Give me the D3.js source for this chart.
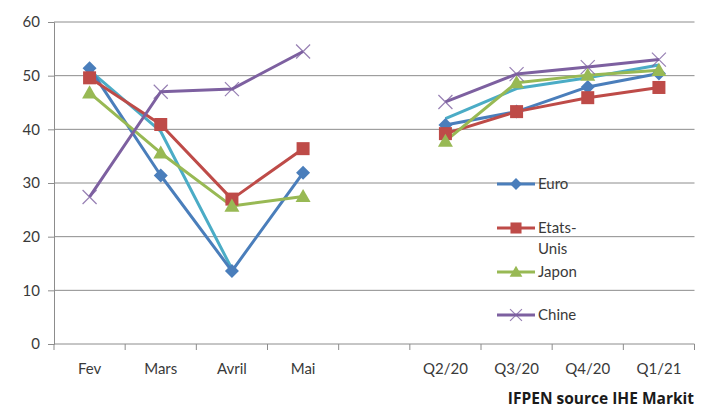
<!DOCTYPE html>
<html>
<head>
<meta charset="utf-8">
<script src="https://cdn.jsdelivr.net/npm/d3@7"></script>
<style>
  html, body { margin: 0; padding: 0; background: #fff; }
  svg { display: block; }
  text { font-family: Lato, "Open Sans", sans-serif; fill: #3a3a3a; }
</style>
</head>
<body>
<svg id="chart" width="712" height="410"></svg>
<script>
// Categories: monthly values, an empty slot, then quarterly forecasts
const categories = ["Fev", "Mars", "Avril", "Mai", "", "Q2/20", "Q3/20", "Q4/20", "Q1/21"];
const yTicks = [0, 10, 20, 30, 40, 50, 60];

const euro      = [51.4, 31.4, 13.6, 31.9, null, 40.8, 43.3, 47.9, 50.4];
const etatsUnis = [49.6, 40.9, 27.0, 36.4, null, 39.2, 43.3, 45.9, 47.8];
const japon     = [46.8, 35.6, 25.7, 27.5, null, 37.8, 48.7, 50.1, 51.0];
const chine     = [27.4, 47.0, 47.5, 54.5, null, 45.1, 50.3, 51.6, 53.0];
const monde     = [51.0, 39.6, 14.0, null, null, 42.0, 47.6, 49.6, 52.0];

const series = [
  { name: "Monde",      values: monde,     color: "#4bacc6", marker: null,       legend: false },
  { name: "Euro",       values: euro,      color: "#4a7ebb", marker: "diamond",  legend: true },
  { name: "Etats-Unis", values: etatsUnis, color: "#be4b48", marker: "square",   legend: true },
  { name: "Japon",      values: japon,     color: "#98b954", marker: "triangle", legend: true },
  { name: "Chine",      values: chine,     color: "#7d60a0", marker: "cross",    legend: true }
];

const svg = d3.select("#chart");
const margin = { left: 54, right: 17.5, top: 22, bottom: 66 };
const W = 712, H = 410;

const x = d3.scaleBand().domain(d3.range(categories.length))
  .range([margin.left, W - margin.right]).padding(0);
const y = d3.scaleLinear().domain([0, 60]).range([H - margin.bottom, margin.top]);
const cx = i => x(i) + x.bandwidth() / 2;

// Horizontal gridlines
svg.append("g").selectAll("line").data(yTicks.filter(t => t > 0)).join("line")
  .attr("x1", margin.left).attr("x2", W - margin.right)
  .attr("y1", d => y(d)).attr("y2", d => y(d))
  .attr("stroke", "#8c8c8c").attr("stroke-width", 1);

// Y axis
const yAxis = svg.append("g").attr("transform", `translate(${margin.left},0)`)
  .call(d3.axisLeft(y).tickValues(yTicks).tickSize(6).tickPadding(8));
yAxis.select(".domain").attr("stroke", "#8c8c8c");
yAxis.selectAll(".tick line").attr("stroke", "#8c8c8c");
yAxis.selectAll("text").attr("font-size", 15).style("fill", "#3a3a3a");

// X axis: tick marks at category boundaries, labels centred in bands
const xAxisG = svg.append("g").attr("transform", `translate(0,${y(0)})`);
xAxisG.append("line").attr("x1", margin.left).attr("x2", W - margin.right)
  .attr("y1", 0).attr("y2", 0).attr("stroke", "#8c8c8c");
xAxisG.selectAll("line.tk").data(d3.range(categories.length + 1)).join("line")
  .attr("class", "tk")
  .attr("x1", i => margin.left + i * x.bandwidth()).attr("x2", i => margin.left + i * x.bandwidth())
  .attr("y1", 0).attr("y2", 6).attr("stroke", "#8c8c8c");
xAxisG.selectAll("text").data(categories).join("text")
  .attr("x", (d, i) => cx(i)).attr("y", 30)
  .attr("text-anchor", "middle").attr("font-size", 15).text(d => d);

// Lines
const line = d3.line().defined(d => d.v != null).x(d => cx(d.i)).y(d => y(d.v));
series.forEach(s => {
  const pts = s.values.map((v, i) => ({ i, v }));
  svg.append("path").datum(pts).attr("d", line)
    .attr("fill", "none").attr("stroke", s.color).attr("stroke-width", 3)
    .attr("stroke-linejoin", "round");
});

// Markers
function drawMarker(g, type, color, px, py, legend) {
  const k = legend ? 0.85 : 1;
  if (type === "diamond") {
    const r = 7 * k;
    g.append("path").attr("d", `M${px},${py - r}L${px + r},${py}L${px},${py + r}L${px - r},${py}Z`)
      .attr("fill", color);
  } else if (type === "square") {
    const r = 6.5 * k;
    g.append("rect").attr("x", px - r).attr("y", py - r).attr("width", 2 * r).attr("height", 2 * r)
      .attr("fill", color);
  } else if (type === "triangle") {
    const r = 7.5 * k;
    g.append("path").attr("d", `M${px},${py - r}L${px + r},${py + r * 0.75}L${px - r},${py + r * 0.75}Z`)
      .attr("fill", color);
  } else if (type === "cross") {
    const r = 7 * k;
    g.append("path").attr("d", `M${px - r},${py - r}L${px + r},${py + r}M${px - r},${py + r}L${px + r},${py - r}`)
      .attr("stroke", color).attr("stroke-width", 1.2).attr("stroke-opacity", 0.8).attr("fill", "none");
  }
}
const markG = svg.append("g");
series.forEach(s => {
  if (!s.marker) return;
  s.values.forEach((v, i) => {
    if (v == null) return;
    drawMarker(markG, s.marker, s.color, cx(i), y(v), false);
  });
});

// Legend
const legendRows = [
  { s: series[1], y: 184, lines: ["Euro"] },
  { s: series[2], y: 228, lines: ["Etats-", "Unis"] },
  { s: series[3], y: 272, lines: ["Japon"] },
  { s: series[4], y: 315, lines: ["Chine"] }
];
const lg = svg.append("g");
legendRows.forEach(r => {
  lg.append("line").attr("x1", 497).attr("x2", 535).attr("y1", r.y).attr("y2", r.y)
    .attr("stroke", r.s.color).attr("stroke-width", 3);
  drawMarker(lg, r.s.marker, r.s.color, 516, r.y, true);
  r.lines.forEach((t, j) => {
    lg.append("text").attr("x", 538).attr("y", r.y + 5 + j * 21)
      .attr("font-size", 15).text(t);
  });
});

// Source note
svg.append("text").attr("x", 694).attr("y", 404).attr("text-anchor", "end")
  .attr("font-size", 15.5).attr("font-weight", "bold")
  .style("font-family", "'Open Sans', sans-serif").style("fill", "#1a1a1a")
  .text("IFPEN source IHE Markit");
</script>
</body>
</html>
